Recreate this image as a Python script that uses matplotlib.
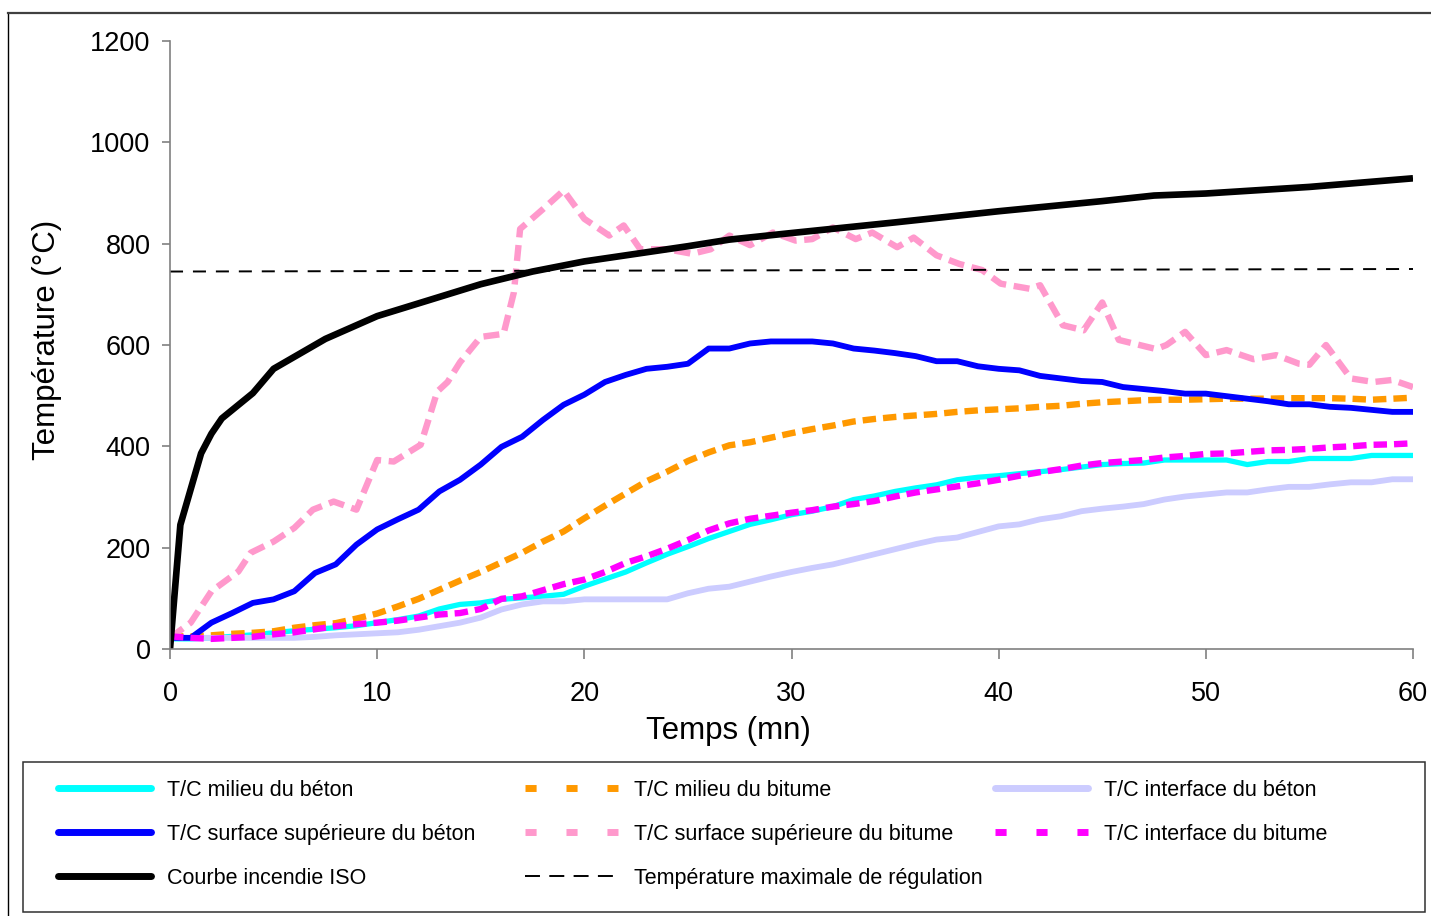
import matplotlib
matplotlib.use('Agg')
import matplotlib.pyplot as plt
from matplotlib.lines import Line2D
from matplotlib.patches import Rectangle

plt.rcParams['font.family'] = ['Liberation Sans', 'DejaVu Sans']

# time axis (minutes) shared by most thermocouple series
minutes = list(range(0, 61))

beton_milieu = [20, 20, 22, 25, 28, 32, 36, 39, 42, 46, 52, 58, 65, 79, 88, 91, 98, 101, 104, 108,
                124, 138, 152, 170, 187, 202, 218, 232, 246, 255, 265, 272, 281, 295, 302, 311, 318, 324,
                334, 339, 342, 346, 350, 354, 359, 364, 366, 367, 373, 373, 373, 373, 364, 370, 370, 376,
                376, 376, 382, 382, 382]

bitume_milieu = [25, 25, 27, 30, 32, 35, 42, 47, 51, 60, 70, 84, 99, 117, 135, 152, 171, 190, 212, 232,
                 258, 283, 307, 331, 350, 371, 388, 402, 408, 417, 426, 434, 441, 449, 454, 458, 461, 464,
                 468, 471, 473, 475, 478, 480, 484, 487, 489, 491, 492, 492, 493, 494, 494, 494, 495, 495,
                 495, 494, 492, 494, 496]

beton_interface = [22, 22, 22, 22, 22, 22, 22, 24, 27, 29, 31, 33, 38, 45, 52, 62, 78, 88, 94, 94,
                   98, 98, 98, 98, 98, 110, 119, 123, 133, 143, 152, 160, 167, 177, 187, 197, 207, 216,
                   220, 231, 242, 246, 256, 262, 272, 277, 281, 286, 295, 301, 305, 309, 309, 315, 320, 320,
                   325, 329, 329, 335, 335]

beton_surface = [22, 22, 52, 71, 91, 98, 114, 150, 167, 206, 236, 256, 275, 311, 334, 364, 399, 419, 452, 482,
                 502, 527, 541, 553, 557, 563, 593, 593, 603, 607, 607, 607, 603, 593, 589, 584, 578, 568,
                 568, 558, 553, 550, 539, 534, 529, 527, 517, 513, 509, 504, 504, 499, 494, 489, 483, 483,
                 478, 476, 472, 468, 468]

bitume_interface = [25, 22, 20, 22, 24, 29, 33, 39, 45, 49, 52, 56, 62, 68, 71, 79, 99, 104, 116, 128,
                    137, 152, 170, 183, 198, 215, 234, 248, 257, 263, 269, 274, 281, 286, 292, 301, 309, 315,
                    321, 327, 334, 342, 349, 355, 362, 367, 370, 373, 378, 381, 385, 386, 389, 392, 393, 395,
                    398, 400, 403, 404, 406]

# bitumen top surface, read point by point (irregular)
surf_bit_t = [0, 1, 2, 3.3, 3.9, 5, 6, 6.9, 7.9, 9, 10, 10.8, 12.1, 12.9, 13.4, 14, 15, 16.1, 16.6, 16.9,
              18, 19, 20, 21.2, 21.9, 22.7, 24, 25.2, 26.1, 27, 28, 29.1, 30.2, 31, 32, 33.1, 33.9, 35.1,
              35.9, 37, 38.1, 39.2, 40.1, 41.5, 42, 43.1, 44.1, 45, 45.8, 47.6, 48.1, 49, 50, 51, 52.3,
              53.4, 54.5, 55, 55.8, 57, 58.1, 59, 60]
surf_bit_v = [22, 52, 114, 153, 190, 212, 239, 275, 291, 275, 373, 370, 403, 508, 527, 566, 616, 622, 704, 829,
              868, 905, 849, 816, 836, 789, 789, 780, 789, 816, 797, 822, 806, 809, 832, 809, 822, 793,
              812, 777, 760, 748, 721, 711, 718, 639, 629, 684, 610, 592, 600, 626, 580, 590, 572,
              580, 563, 561, 600, 534, 527, 531, 517]

iso_t = [0, 0.5, 1.5, 2, 2.5, 4, 5, 7.5, 10, 15, 17.5, 20, 25, 27, 30, 35, 40, 45, 47.5, 50, 55, 60]
iso_v = [0, 245, 386, 425, 455, 505, 553, 612, 657, 720, 745, 765, 795, 808, 821, 842, 864, 884, 895, 899, 912, 929]

regul_t = [0, 60]
regul_v = [745, 750]

labels = ['T/C milieu du béton', 'T/C surface supérieure du béton', 'Courbe incendie ISO',
          'T/C milieu du bitume', 'T/C surface supérieure du bitume', 'Température maximale de régulation',
          'T/C interface du béton', 'T/C interface du bitume']

W, H = 1431, 916
fig = plt.figure(figsize=(W / 100, H / 100), dpi=100)
ax = fig.add_axes([170 / W, 1 - 649 / H, (1413 - 170) / W, (649 - 41) / H])

st = dict(solid_capstyle='butt', solid_joinstyle='round', dash_capstyle='butt', dash_joinstyle='round')
l_cyan, = ax.plot(minutes, beton_milieu, color='#00FFFF', lw=3.8, **st)
l_orange, = ax.plot(minutes, bitume_milieu, color='#FF9900', lw=4.6, ls=(0, (2.1, 1.1)), **st)
l_lav, = ax.plot(minutes, beton_interface, color='#CCCCFF', lw=4.2, **st)
l_blue, = ax.plot(minutes, beton_surface, color='#0000FF', lw=4.2, **st)
l_pink, = ax.plot(surf_bit_t, surf_bit_v, color='#FF99CC', lw=4.6, ls=(0, (2.5, 1.2)), **st)
l_mag, = ax.plot(minutes, bitume_interface, color='#FF00FF', lw=4.6, ls=(0, (2.1, 1.1)), **st)
l_iso, = ax.plot(iso_t, iso_v, color='black', lw=4.8, **st)
l_reg, = ax.plot(regul_t, regul_v, color='black', lw=1.4, ls=(0, (6.7, 5.1)), **st)

ax.set_xlim(0, 60)
ax.set_ylim(0, 1200)
ax.set_xticks(range(0, 61, 10))
ax.set_yticks(range(0, 1201, 200))
for s in ['top', 'right']:
    ax.spines[s].set_visible(False)
for s in ['left', 'bottom']:
    ax.spines[s].set_color('#808080')
    ax.spines[s].set_linewidth(1.2)
ax.tick_params(axis='x', direction='out', length=7, width=1.2, color='#808080', pad=16, labelsize=19.5)
ax.tick_params(axis='y', direction='out', length=6, width=1.2, color='#808080', pad=8, labelsize=19.5)

ax.set_xlabel('Temps (mn)', fontsize=22.5, va='center')
ax.xaxis.set_label_coords((728 - 170) / 1243, (649 - 731) / 608)
ax.set_ylabel('Température (°C)', fontsize=22.5, va='center')
ax.yaxis.set_label_coords((47 - 170) / 1243, (649 - 340) / 608)

# outer chart border (top and left visible)
fig.add_artist(Line2D([8 / W, 8 / W], [0, 1 - 13 / H], transform=fig.transFigure, color='black', lw=1))
fig.add_artist(Line2D([8 / W, 1], [1 - 13 / H, 1 - 13 / H], transform=fig.transFigure, color='#404040', lw=1.6))

# legend frame
fig.add_artist(Rectangle((23 / W, 1 - 912 / H), (1425 - 23) / W, (912 - 762) / H, fill=False,
                         edgecolor='#303030', lw=1.1, transform=fig.transFigure))

# legend proxies (Excel draws the dashed keys with short, sparse dashes)
def proxy(line, dashes=None):
    kw = dict(color=line.get_color(), lw=5.0, solid_capstyle='round', dash_capstyle='butt')
    if dashes:
        kw['ls'] = (0, dashes)
    return Line2D([], [], **kw)

key_dash = (1.6, 4.3)
col1 = [proxy(l_cyan), proxy(l_blue), proxy(l_iso)]
col2 = [proxy(l_orange, key_dash), proxy(l_pink, key_dash),
        Line2D([], [], color='black', lw=1.4, ls=(0, (7.7, 4.8)))]
col3 = [proxy(l_lav), proxy(l_mag, key_dash)]

cols = [(col1, labels[0:3], 58), (col2, labels[3:6], 525), (col3, labels[6:8], 995)]
for handles, labs, xpx in cols:
    leg = fig.legend(handles, labs, loc='upper left', bbox_to_anchor=(xpx / W, 1 - 780 / H),
                     bbox_transform=fig.transFigure, frameon=False, fontsize=15.5,
                     handlelength=4.3, handletextpad=0.75, labelspacing=1.06,
                     borderpad=0, borderaxespad=0)

fig.savefig('out.png', dpi=100)
